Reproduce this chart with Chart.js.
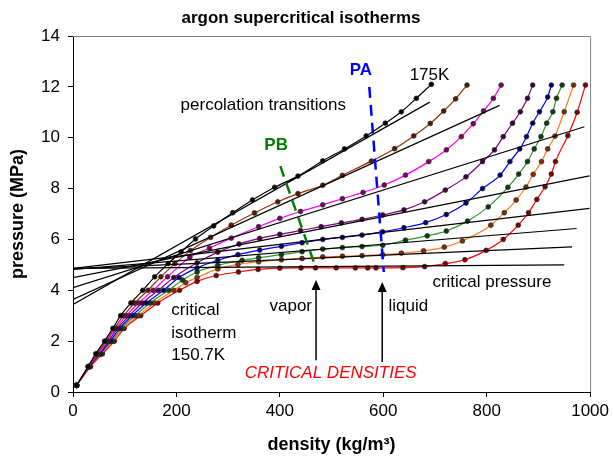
<!DOCTYPE html>
<html>
<head>
<meta charset="utf-8">
<script src="https://cdn.jsdelivr.net/npm/chart.js@4.4.0/dist/chart.umd.min.js"></script>
<style>
  html, body { margin: 0; padding: 0; background: #fff; }
</style>
</head>
<body>
<canvas id="isoChart" width="613" height="456"></canvas>
<script>
// isotherms, hottest (175K) down to the critical isotherm (150.7K)
const rho175 = [7,29,44,61,77,92,112,135,158,184,209,237,272,309,347,390,435,483,525,567,604,635,664,693];
const p175   = [0.26,1.0,1.5,2.0,2.5,3.0,3.5,4.0,4.53,5.05,5.51,6.02,6.53,7.05,7.55,8.05,8.49,9.09,9.56,10.07,10.57,11.02,11.55,12.1];

const rhoBrown = [7,30,46,64,80,98,119,145,170,197,227,266,306,351,396,435,483,521,577,622,659,691,717,740,762];
const pBrown   = [0.26,1.0,1.5,2.0,2.5,3.0,3.5,4.0,4.53,5.05,5.56,6.08,6.56,7.04,7.48,7.8,8.13,8.52,9.08,9.57,10.07,10.56,11.05,11.53,12.07];

const rhoMagenta = [7,30,48,66,83,103,127,155,183,226,264,306,359,400,440,483,521,561,602,643,688,722,751,774,794,813,828];
const pMagenta   = [0.26,1.0,1.5,2.0,2.5,3.0,3.5,4.0,4.53,5.3,5.66,6.05,6.5,6.83,7.1,7.36,7.6,7.85,8.14,8.53,9.06,9.52,10.04,10.55,11.05,11.55,12.07];

const rhoPurple = [7,31,50,69,86,109,134,165,195,240,280,321,361,400,440,480,519,559,599,640,680,720,760,792,815,832,850,865,879,889];
const pPurple   = [0.26,1.0,1.5,2.0,2.5,3.0,3.5,4.0,4.5,5.08,5.5,5.82,6.04,6.2,6.35,6.5,6.65,6.79,6.96,7.16,7.48,7.94,8.46,9.06,9.52,10.04,10.57,11.02,11.55,12.07];

const rhoBlue = [7,32,52,72,90,114,142,175,205,240,280,319,361,403,443,483,521,559,599,640,682,722,760,792,826,845,864,877,889,902,918,925];
const pBlue   = [0.26,1.0,1.5,2.0,2.5,3.0,3.5,4.0,4.5,4.88,5.18,5.4,5.58,5.73,5.87,6.0,6.08,6.17,6.3,6.46,6.66,6.98,7.43,8.0,8.53,9.06,9.56,10.04,10.57,11.02,11.6,12.07];

const rhoGreen = [7,32,53,75,93,120,149,185,212,240,280,327,359,403,443,483,521,559,599,643,685,722,763,803,841,862,879,892,905,916,928,935,946];
const pGreen   = [0.26,1.0,1.5,2.0,2.5,3.0,3.5,4.0,4.4,4.72,4.98,5.18,5.28,5.4,5.52,5.62,5.68,5.72,5.77,5.97,6.14,6.33,6.72,7.28,8.05,8.57,9.06,9.56,10.04,10.57,11.02,11.55,12.07];

const rhoOrange = [7,33,55,77,96,126,157,195,218,240,280,319,359,403,443,483,521,559,599,635,678,718,753,808,834,857,876,890,906,918,932,950,968];
const pOrange   = [0.26,1.0,1.5,2.0,2.5,3.0,3.5,4.0,4.3,4.5,4.84,5.02,5.12,5.2,5.25,5.31,5.34,5.36,5.4,5.46,5.55,5.7,5.94,6.56,7.05,7.55,8.06,8.56,9.06,9.56,10.06,11.02,12.07];

const rhoRed = [7,34,57,80,99,131,164,206,240,277,320,358,400,441,469,509,546,570,586,638,680,720,758,799,832,861,881,897,913,925,933,957,975,991];
const pRed   = [0.26,1.0,1.5,2.0,2.5,3.0,3.5,4.0,4.35,4.58,4.72,4.82,4.87,4.88,4.88,4.88,4.88,4.88,4.88,4.89,4.93,5.05,5.2,5.57,6.0,6.56,7.05,7.57,8.07,8.57,9.06,10.08,11.0,12.07];

// percolation transition lines (one per isotherm, same order)
const lineStartP = [3.44, 3.64, 4.1, 4.5, 4.86, 4.82, 4.84, 4.86];
const lineEndRho = [690, 825, 989, 999, 999, 974, 965, 950];
const lineEndP   = [11.4, 11.27, 10.43, 8.5, 7.22, 6.43, 5.71, 5.0];

// PA and PB loci
const paRho = [573, 601];
const paP   = [12.0, 4.72];
const pbRho = [401, 470];
const pbP   = [8.88, 4.86];

const xTicks = [0, 200, 400, 600, 800, 1000];
const yTicks = [0, 2, 4, 6, 8, 10, 12, 14];

const FONT = '"Liberation Sans", Arial, sans-serif';

const isotherms = [
  { rho: rho175,     p: p175,     color: '#000000', dot: '#000000' },
  { rho: rhoBrown,   p: pBrown,   color: '#993300', dot: '#5a1a00' },
  { rho: rhoMagenta, p: pMagenta, color: '#ff00ff', dot: '#800060' },
  { rho: rhoPurple,  p: pPurple,  color: '#800080', dot: '#400040' },
  { rho: rhoBlue,    p: pBlue,    color: '#0000ff', dot: '#000070' },
  { rho: rhoGreen,   p: pGreen,   color: '#339933', dot: '#0d400d' },
  { rho: rhoOrange,  p: pOrange,  color: '#ff7a1a', dot: '#803000' },
  { rho: rhoRed,     p: pRed,     color: '#ff0000', dot: '#800000' }
];

const toPts = (xs, ys) => xs.map((x, i) => ({ x: x, y: ys[i] }));

const datasets = [];
isotherms.forEach(iso => {
  datasets.push({
    data: toPts(iso.rho, iso.p),
    showLine: true,
    borderColor: iso.color,
    borderWidth: 1.2,
    cubicInterpolationMode: 'monotone',
    pointRadius: 2.4,
    pointBackgroundColor: iso.dot,
    pointBorderColor: '#222',
    pointBorderWidth: 0.7,
    order: 3
  });
});
lineStartP.forEach((p0, i) => {
  datasets.push({
    data: [{ x: 0, y: p0 }, { x: lineEndRho[i], y: lineEndP[i] }],
    showLine: true,
    borderColor: '#000',
    borderWidth: 1.2,
    pointRadius: 0,
    order: 2
  });
});
datasets.push({
  data: toPts(paRho, paP), showLine: true, borderColor: '#0000ff',
  borderWidth: 2.5, borderDash: [11, 7], pointRadius: 0, order: 1
});
datasets.push({
  data: toPts(pbRho, pbP), showLine: true, borderColor: '#008000',
  borderWidth: 2.5, borderDash: [11, 7], pointRadius: 0, order: 1
});

// text and arrows, placed in data units
const notes = [
  { text: 'percolation transitions', x: 208, y: 11.29, color: '#000', font: '17px ' + FONT },
  { text: 'PB', x: 370, y: 9.71, color: '#008000', font: 'bold 17px ' + FONT },
  { text: 'PA', x: 535, y: 12.66, color: '#0000ff', font: 'bold 17px ' + FONT },
  { text: '175K', x: 651, y: 12.47, color: '#000', font: '17px ' + FONT },
  { text: 'critical pressure', x: 695, y: 4.31, color: '#000', font: '17px ' + FONT },
  { text: 'vapor', x: 380, y: 3.36, color: '#000', font: '17px ' + FONT },
  { text: 'liquid', x: 610, y: 3.36, color: '#000', font: '17px ' + FONT },
  { text: 'critical', x: 190, y: 3.2, color: '#000', font: '17px ' + FONT },
  { text: 'isotherm', x: 190, y: 2.31, color: '#000', font: '17px ' + FONT },
  { text: '150.7K', x: 190, y: 1.44, color: '#000', font: '17px ' + FONT },
  { text: 'CRITICAL DENSITIES', x: 332, y: 0.74, color: '#ff0000', font: 'italic 17px ' + FONT }
];
const arrows = [
  { x: 470, from: 1.25, to: 4.4 },
  { x: 598, from: 1.18, to: 4.33 }
];
const titleText = 'argon supercritical isotherms';

const extras = {
  id: 'extras',
  afterDatasetsDraw(chart) {
    const { ctx, chartArea: a, scales: { x, y } } = chart;
    ctx.save();
    // plot area frame (top and right)
    ctx.strokeStyle = '#808080';
    ctx.lineWidth = 1;
    ctx.beginPath();
    ctx.moveTo(a.left, a.top + 0.5);
    ctx.lineTo(a.right + 0.5, a.top + 0.5);
    ctx.lineTo(a.right + 0.5, a.bottom);
    ctx.stroke();

    arrows.forEach(ar => {
      const px = x.getPixelForValue(ar.x);
      const y0 = y.getPixelForValue(ar.from);
      const y1 = y.getPixelForValue(ar.to);
      ctx.strokeStyle = '#000';
      ctx.lineWidth = 1.5;
      ctx.beginPath();
      ctx.moveTo(px, y0);
      ctx.lineTo(px, y1 + 8);
      ctx.stroke();
      ctx.fillStyle = '#000';
      ctx.beginPath();
      ctx.moveTo(px, y1);
      ctx.lineTo(px - 4.5, y1 + 10);
      ctx.lineTo(px + 4.5, y1 + 10);
      ctx.closePath();
      ctx.fill();
    });

    ctx.textBaseline = 'middle';
    ctx.textAlign = 'left';
    notes.forEach(n => {
      ctx.font = n.font;
      ctx.fillStyle = n.color;
      ctx.fillText(n.text, x.getPixelForValue(n.x), y.getPixelForValue(n.y));
    });

    // chart title
    ctx.font = 'bold 17px ' + FONT;
    ctx.fillStyle = '#000';
    ctx.textAlign = 'center';
    ctx.fillText(titleText, 301, 18);
    ctx.restore();
  }
};

new Chart(document.getElementById('isoChart'), {
  type: 'scatter',
  data: { datasets: datasets },
  options: {
    responsive: false,
    animation: false,
    devicePixelRatio: 1,
    layout: { padding: { left: 0, right: 22, top: 36, bottom: 0 } },
    plugins: {
      legend: { display: false },
      tooltip: { enabled: false },
      title: { display: false }
    },
    scales: {
      x: {
        type: 'linear',
        min: 0, max: 1000,
        afterBuildTicks: s => { s.ticks = xTicks.map(v => ({ value: v })); },
        afterFit: s => { s.height = 64; },
        border: { color: '#000', width: 1 },
        grid: { drawOnChartArea: false, drawTicks: true, tickLength: 5, color: '#000' },
        ticks: { color: '#000', padding: 4, font: { family: FONT, size: 17 }, callback: v => String(v) },
        title: {
          display: true,
          text: 'density (kg/m³)',
          color: '#000',
          font: { family: FONT, size: 18, weight: 'bold' },
          padding: { top: 1, bottom: 0 }
        }
      },
      y: {
        type: 'linear',
        min: 0, max: 14,
        afterBuildTicks: s => { s.ticks = yTicks.map(v => ({ value: v })); },
        afterFit: s => { s.width = 73; },
        border: { color: '#000', width: 1 },
        grid: { drawOnChartArea: false, drawTicks: true, tickLength: 5, color: '#000' },
        ticks: { color: '#000', padding: 8, font: { family: FONT, size: 17 }, callback: v => String(v) },
        title: {
          display: true,
          text: 'pressure (MPa)',
          color: '#000',
          font: { family: FONT, size: 18, weight: 'bold' },
          padding: { top: 7, bottom: 0 }
        }
      }
    }
  },
  plugins: [extras]
});
</script>
</body>
</html>
